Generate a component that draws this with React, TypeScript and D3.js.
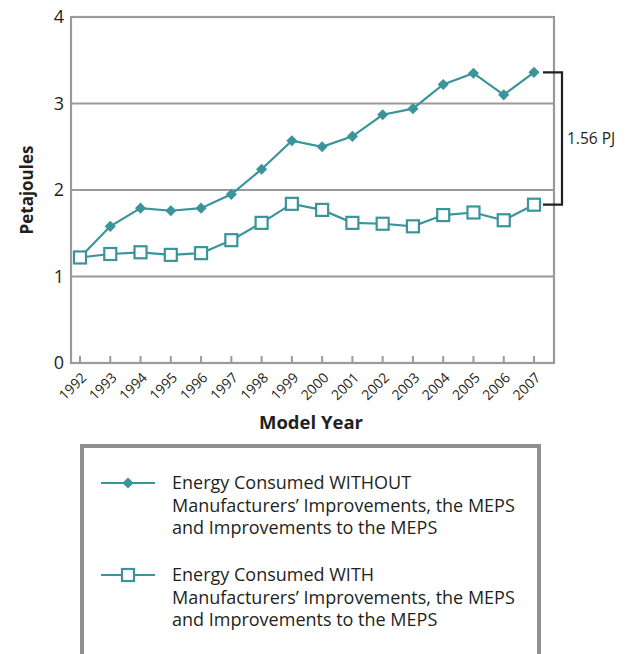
import React, { useEffect, useRef } from 'react';
import * as d3 from 'd3';

// Model years on the x axis
const years = [1992, 1993, 1994, 1995, 1996, 1997, 1998, 1999, 2000, 2001, 2002, 2003, 2004, 2005, 2006, 2007];
// Energy consumed WITHOUT improvements (PJ)
const withoutValues = [1.22, 1.58, 1.79, 1.76, 1.79, 1.95, 2.24, 2.57, 2.5, 2.62, 2.87, 2.94, 3.22, 3.35, 3.1, 3.36];
// Energy consumed WITH improvements (PJ)
const withValues = [1.22, 1.26, 1.28, 1.25, 1.27, 1.42, 1.62, 1.84, 1.77, 1.62, 1.61, 1.58, 1.71, 1.74, 1.65, 1.83];
const yTicks = [0, 1, 2, 3, 4];
const gapLabel = '1.56 PJ';
const legendWithout = ['Energy Consumed WITHOUT', 'Manufacturers\u2019 Improvements, the MEPS', 'and Improvements to the MEPS'];
const legendWith = ['Energy Consumed WITH', 'Manufacturers\u2019 Improvements, the MEPS', 'and Improvements to the MEPS'];

const TEAL = '#3a949a';
const GRID = '#9a9a9a';
const INK = '#231f20';
const FONT = '"Open Sans", "Noto Sans", sans-serif';

export default function App() {
  const ref = useRef<SVGSVGElement | null>(null);

  useEffect(() => {
    if (!ref.current) return;
    const svg = d3.select(ref.current);
    svg.selectAll('*').remove();

    const plot = { left: 71, top: 17, right: 554, bottom: 363 };

    const x = d3.scaleLinear().domain([1992, 2007]).range([80, 534]);
    const y = d3.scaleLinear().domain([0, 4]).range([plot.bottom, plot.top]);

    // gridlines
    svg.append('g')
      .selectAll('line')
      .data(yTicks.filter(d => d > 0 && d < 4))
      .join('line')
      .attr('x1', plot.left)
      .attr('x2', plot.right)
      .attr('y1', d => y(d))
      .attr('y2', d => y(d))
      .attr('stroke', GRID)
      .attr('stroke-width', 2.2);

    // plot frame
    svg.append('rect')
      .attr('x', plot.left)
      .attr('y', plot.top)
      .attr('width', plot.right - plot.left)
      .attr('height', plot.bottom - plot.top)
      .attr('fill', 'none')
      .attr('stroke', GRID)
      .attr('stroke-width', 2.2);

    // y tick labels
    svg.append('g')
      .selectAll('text')
      .data(yTicks)
      .join('text')
      .attr('x', plot.left - 7)
      .attr('y', d => y(d))
      .attr('dy', '0.36em')
      .attr('text-anchor', 'end')
      .attr('fill', INK)
      .style('font-family', FONT)
      .style('font-size', '18px')
      .text(d => d);

    // x ticks (inside, pointing up)
    svg.append('g')
      .selectAll('line')
      .data(years)
      .join('line')
      .attr('x1', d => x(d))
      .attr('x2', d => x(d))
      .attr('y1', plot.bottom)
      .attr('y2', plot.bottom - 7)
      .attr('stroke', GRID)
      .attr('stroke-width', 2);

    // x tick labels, rotated
    svg.append('g')
      .selectAll('text')
      .data(years)
      .join('text')
      .attr('transform', d => `translate(${x(d) + 4},${plot.bottom + 12}) rotate(-45)`)
      .attr('text-anchor', 'end')
      .attr('dy', '0.35em')
      .attr('fill', INK)
      .style('font-family', FONT)
      .style('font-size', '14px')
      .text(d => d);

    // axis titles
    svg.append('text')
      .attr('transform', `translate(33,${y(2)}) rotate(-90)`)
      .attr('text-anchor', 'middle')
      .attr('fill', INK)
      .style('font-family', FONT)
      .style('font-size', '17px')
      .style('font-weight', 'bold')
      .text('Petajoules');

    svg.append('text')
      .attr('x', 311)
      .attr('y', 429)
      .attr('text-anchor', 'middle')
      .attr('fill', INK)
      .style('font-family', FONT)
      .style('font-size', '18.5px')
      .style('font-weight', 'bold')
      .text('Model Year');

    const line = d3.line<number>()
      .x((_, i) => x(years[i]))
      .y(d => y(d));

    // series WITHOUT
    svg.append('path')
      .datum(withoutValues)
      .attr('d', line)
      .attr('fill', 'none')
      .attr('stroke', TEAL)
      .attr('stroke-width', 2.2);

    // series WITH
    svg.append('path')
      .datum(withValues)
      .attr('d', line)
      .attr('fill', 'none')
      .attr('stroke', TEAL)
      .attr('stroke-width', 2.2);

    const diamond = d3.symbol().type(d3.symbolSquare).size(62)();
    svg.append('g')
      .selectAll('path')
      .data(withoutValues)
      .join('path')
      .attr('d', diamond)
      .attr('transform', (d, i) => `translate(${x(years[i])},${y(d)}) rotate(45)`)
      .attr('fill', TEAL);

    svg.append('g')
      .selectAll('rect')
      .data(withValues)
      .join('rect')
      .attr('x', (_, i) => x(years[i]) - 6)
      .attr('y', d => y(d) - 6)
      .attr('width', 12)
      .attr('height', 12)
      .attr('fill', '#fff')
      .attr('stroke', TEAL)
      .attr('stroke-width', 2.2);

    // gap bracket
    const last = years.length - 1;
    const bx = 562;
    const yTop = y(withoutValues[last]);
    const yBot = y(withValues[last]);
    svg.append('path')
      .attr('d', `M${x(years[last]) + 9},${yTop}H${bx}V${yBot}H${x(years[last]) + 9}`)
      .attr('fill', 'none')
      .attr('stroke', INK)
      .attr('stroke-width', 2.2);

    svg.append('text')
      .attr('x', bx + 5)
      .attr('y', (yTop + yBot) / 2)
      .attr('dy', '0.35em')
      .attr('fill', INK)
      .style('font-family', FONT)
      .style('font-size', '15.5px')
      .text(gapLabel);

    // legend box
    svg.append('rect')
      .attr('x', 82)
      .attr('y', 446)
      .attr('width', 457)
      .attr('height', 230)
      .attr('fill', '#fff')
      .attr('stroke', '#8f8f8f')
      .attr('stroke-width', 4);

    const legendItems = [
      { lines: legendWithout, cy: 483, marker: 'diamond' },
      { lines: legendWith, cy: 575, marker: 'square' },
    ];
    legendItems.forEach(item => {
      const g = svg.append('g');
      g.append('line')
        .attr('x1', 101).attr('x2', 155)
        .attr('y1', item.cy).attr('y2', item.cy)
        .attr('stroke', TEAL).attr('stroke-width', 2.2);
      if (item.marker === 'diamond') {
        g.append('path')
          .attr('d', diamond)
          .attr('transform', `translate(128,${item.cy}) rotate(45)`)
          .attr('fill', TEAL);
      } else {
        g.append('rect')
          .attr('x', 122).attr('y', item.cy - 6)
          .attr('width', 12).attr('height', 12)
          .attr('fill', '#fff').attr('stroke', TEAL).attr('stroke-width', 2.2);
      }
      g.selectAll('text.leg')
        .data(item.lines)
        .join('text')
        .attr('class', 'leg')
        .attr('x', 172)
        .attr('y', (_, i) => item.cy + i * 22.5)
        .attr('dy', '0.35em')
        .attr('fill', INK)
        .style('font-family', FONT)
        .style('font-size', '18px')
        .text(d => d);
    });
  }, []);

  return (
    <svg
      ref={ref}
      width={629}
      height={654}
      style={{ position: 'absolute', left: 0, top: 0, background: '#fff' }}
    />
  );
}
